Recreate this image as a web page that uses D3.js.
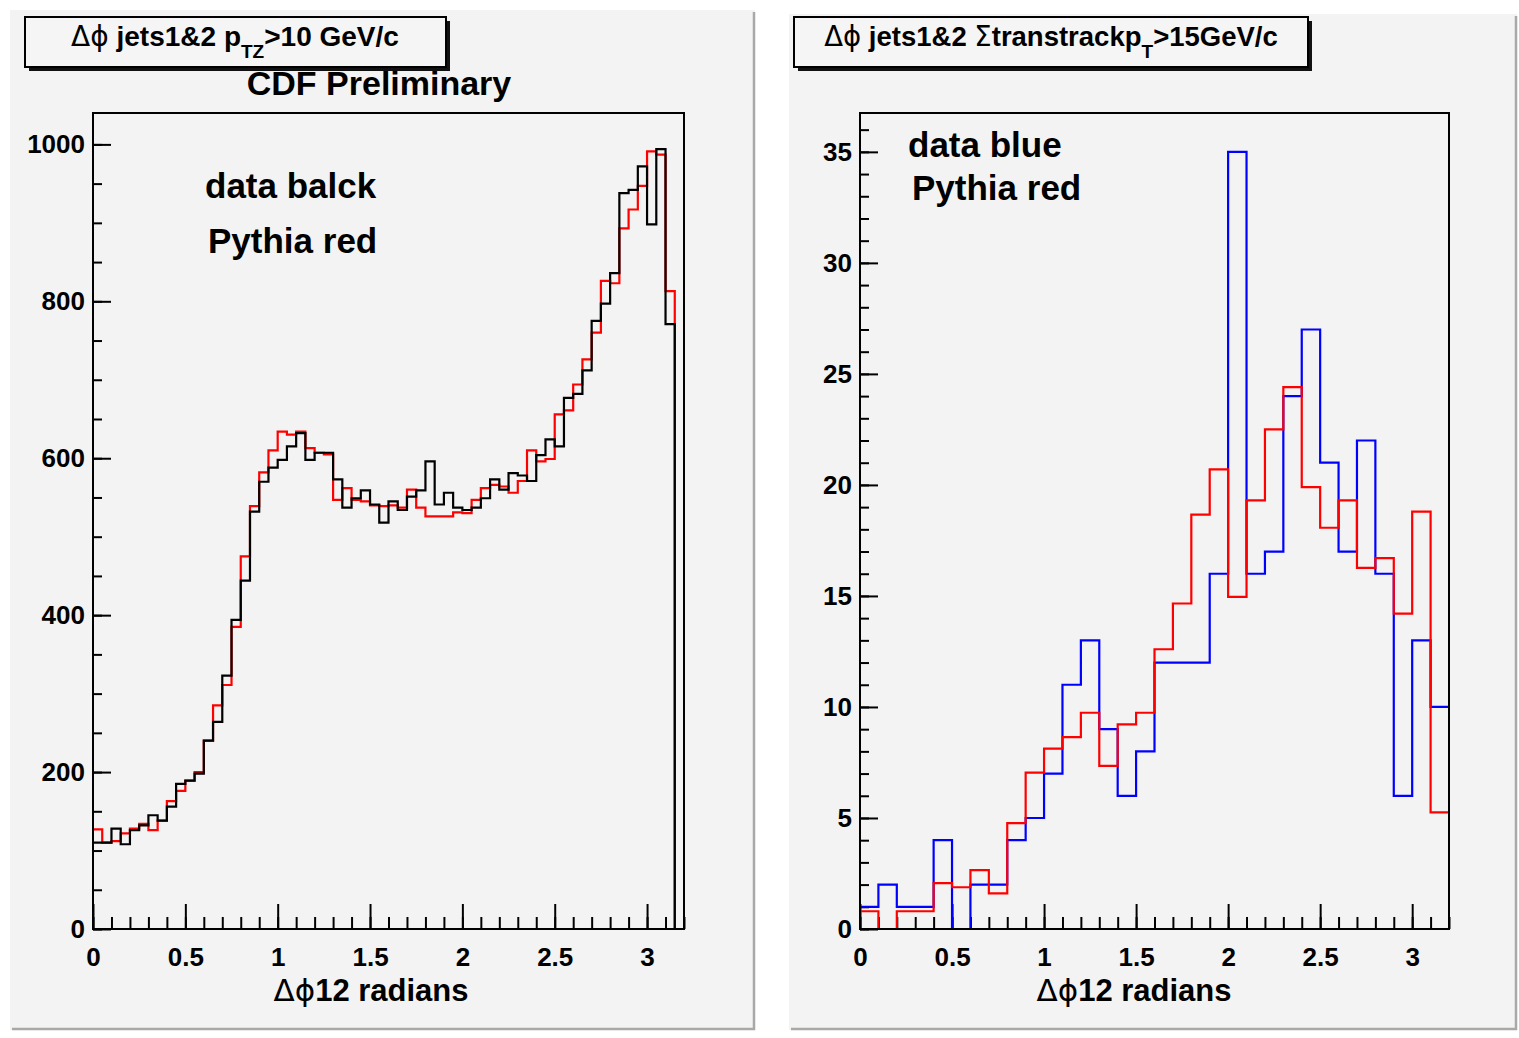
<!DOCTYPE html>
<html>
<head>
<meta charset="utf-8">
<script src="https://cdn.jsdelivr.net/npm/d3@7"></script>
<style>
  html, body { margin: 0; padding: 0; background: #ffffff; }
  svg { display: block; }
  text { font-family: "Liberation Sans", Arial, Helvetica, sans-serif; font-weight: bold; fill: #000; }
</style>
</head>
<body>
<svg id="chart" width="1519" height="1038"></svg>
<script>
// ---------------- DATA ----------------
// Left panel: 64 bins of width 0.05 from 0 to 3.2
const leftBinWidth = 0.05;
const leftData = [110,110,128,108,126,132,145,138,156,185,189,198,240,264,323,394,
  444,532,570,588,598,615,632,598,607,607,573,537,549,559,541,518,
  545,534,551,559,596,541,556,537,534,537,549,573,560,581,578,571,
  604,624,615,677,682,712,775,797,836,938,942,972,898,994,771,0];
const leftPythia = [127,110,112,122,128,134,126,138,163,176,189,200,240,285,311,385,
  475,539,582,610,634,630,634,613,607,605,547,562,547,545,540,539,
  540,537,560,537,526,526,526,531,530,547,562,566,564,556,571,610,
  596,599,656,661,694,726,760,826,823,893,917,947,991,987,813,0];
// Right panel: 32 bins of width 0.1 from 0 to 3.2
const rightBinWidth = 0.1;
const rightData = [1,2,1,1,4,0,2,2,4,5,7,11,13,9,6,8,
  12,12,12,16,35,16,17,24,27,21,17,22,16,6,13,10];
const rightPythia = [0.8,0,0.8,0.8,2.07,1.88,2.65,1.6,4.77,7.04,8.12,8.64,9.74,7.35,9.22,9.74,
  12.6,14.66,18.66,20.7,14.96,19.3,22.5,24.4,19.9,18.07,19.3,16.26,16.7,14.2,18.8,5.25];

const xTickValues = [0, 0.5, 1, 1.5, 2, 2.5, 3];
const xTickLabels = ["0", "0.5", "1", "1.5", "2", "2.5", "3"];
const leftYTicks = [0, 200, 400, 600, 800, 1000];
const rightYTicks = [0, 5, 10, 15, 20, 25, 30, 35];

// ---------------- DRAWING ----------------
const svg = d3.select("#chart");

function pad(x0, y0, x1, y1) {
  svg.append("rect").attr("x", x0).attr("y", y0).attr("width", x1 - x0).attr("height", y1 - y0)
    .attr("fill", "#f3f3f3");
  svg.append("path").attr("d", `M${x1 - 1},${y0 + 2}V${y1 - 1}H${x0 + 2}`)
    .attr("fill", "none").attr("stroke", "#a8a8a8").attr("stroke-width", 2.5);
}
pad(10, 10, 755, 1030);
pad(789, 14, 1517, 1030);

function titleBox(x0, y0, x1, y1) {
  svg.append("rect").attr("x", x0 + 4).attr("y", y0 + 4).attr("width", x1 - x0).attr("height", y1 - y0)
    .attr("fill", "#111");
  svg.append("rect").attr("x", x0).attr("y", y0).attr("width", x1 - x0).attr("height", y1 - y0)
    .attr("fill", "#f5f5f5").attr("stroke", "#000").attr("stroke-width", 2);
}

function stepPath(x, y, values, bw) {
  let d = `M${x(0)},${y(values[0])}`;
  values.forEach((v, i) => {
    d += `H${x((i + 1) * bw)}`;
    if (i + 1 < values.length) d += `V${y(values[i + 1])}`;
  });
  return d;
}

function panel(opt) {
  const x = d3.scaleLinear().domain([0, 3.2]).range([opt.x0, opt.x1]);
  const y = d3.scaleLinear().domain([0, opt.ymax]).range([929, 113]);
  const g = svg.append("g");

  g.append("rect").attr("x", opt.x0).attr("y", 113).attr("width", opt.x1 - opt.x0).attr("height", 816)
    .attr("fill", "#f3f3f3");

  const xMinor = d3.range(0, 33).map(i => i / 10).filter(v => v <= 3.2);
  g.append("g").attr("transform", `translate(0,929)`)
    .call(d3.axisBottom(x).tickValues(xMinor).tickSize(-12).tickFormat(""))
    .call(s => { s.select(".domain").remove(); s.selectAll("line").attr("stroke", "#000").attr("stroke-width", 2); });
  g.append("g").attr("transform", `translate(0,929)`)
    .call(d3.axisBottom(x).tickValues(xTickValues).tickSize(-25).tickPadding(19)
      .tickFormat((d, i) => xTickLabels[i]))
    .call(s => {
      s.select(".domain").remove();
      s.selectAll("line").attr("stroke", "#000").attr("stroke-width", 2);
      s.selectAll("text").attr("font-size", 26).attr("font-family", "Liberation Sans, Arial, sans-serif")
        .attr("font-weight", "bold").attr("fill", "#000");
    });

  g.append("g").attr("transform", `translate(${opt.x0},0)`)
    .call(d3.axisLeft(y).tickValues(opt.yMinor).tickSize(-9).tickFormat(""))
    .call(s => { s.select(".domain").remove(); s.selectAll("line").attr("stroke", "#000").attr("stroke-width", 2); });
  g.append("g").attr("transform", `translate(${opt.x0},0)`)
    .call(d3.axisLeft(y).tickValues(opt.yTicks).tickSize(-18).tickPadding(8).tickFormat(d3.format("d")))
    .call(s => {
      s.select(".domain").remove();
      s.selectAll("line").attr("stroke", "#000").attr("stroke-width", 2);
      s.selectAll("text").attr("font-size", 26).attr("font-family", "Liberation Sans, Arial, sans-serif")
        .attr("font-weight", "bold").attr("fill", "#000");
    });

  opt.series.forEach(s => {
    g.append("path").attr("d", stepPath(x, y, s.values, opt.bw))
      .attr("fill", "none").attr("stroke", s.color).attr("stroke-width", 2.2);
  });

  g.append("rect").attr("x", opt.x0).attr("y", 113).attr("width", opt.x1 - opt.x0).attr("height", 816)
    .attr("fill", "none").attr("stroke", "#000").attr("stroke-width", 2);

  const t = g.append("text").attr("x", opt.titleX).attr("y", 1001).attr("text-anchor", "middle")
    .attr("font-size", 31);
  t.append("tspan").attr("font-weight", "normal").attr("font-family", "DejaVu Sans, sans-serif").text("Δϕ");
  t.append("tspan").text("12 radians");
}

// Left panel
titleBox(25, 17, 446, 67);
{
  const t = svg.append("text").attr("x", 235).attr("y", 46).attr("text-anchor", "middle").attr("font-size", 28);
  t.append("tspan").attr("font-weight", "normal").attr("font-family", "DejaVu Sans, sans-serif").text("Δϕ");
  t.append("tspan").text(" jets1&2 p");
  t.append("tspan").attr("font-size", 19).attr("dy", 12).text("TZ");
  t.append("tspan").attr("dy", -12).text(">10 GeV/c");
}
svg.append("text").attr("x", 379).attr("y", 95).attr("text-anchor", "middle").attr("font-size", 34)
  .text("CDF Preliminary");

panel({
  x0: 93, x1: 684, ymax: 1040, bw: leftBinWidth,
  yTicks: leftYTicks, yMinor: d3.range(0, 21).map(i => i * 50),
  titleX: 371,
  series: [{ values: leftPythia, color: "#ff0000" }, { values: leftData, color: "#000000" }]
});
svg.append("text").attr("x", 205).attr("y", 198).attr("font-size", 35).text("data balck");
svg.append("text").attr("x", 208).attr("y", 253).attr("font-size", 35).text("Pythia red");

// Right panel
titleBox(794, 17, 1308, 67);
{
  const t = svg.append("text").attr("x", 1051).attr("y", 46).attr("text-anchor", "middle").attr("font-size", 27.5);
  t.append("tspan").attr("font-weight", "normal").attr("font-family", "DejaVu Sans, sans-serif").text("Δϕ");
  t.append("tspan").text(" jets1&2 ");
  t.append("tspan").attr("font-weight", "normal").attr("font-family", "DejaVu Sans, sans-serif").text("Σ");
  t.append("tspan").text("transtrackp");
  t.append("tspan").attr("font-size", 19).attr("dy", 12).text("T");
  t.append("tspan").attr("dy", -12).text(">15GeV/c");
}

panel({
  x0: 860, x1: 1449, ymax: 36.75, bw: rightBinWidth,
  yTicks: rightYTicks, yMinor: d3.range(0, 37),
  titleX: 1134,
  series: [{ values: rightData, color: "#0000ff" }, { values: rightPythia, color: "#ff0000" }]
});
svg.append("text").attr("x", 908).attr("y", 157).attr("font-size", 35).text("data blue");
svg.append("text").attr("x", 912).attr("y", 200).attr("font-size", 35).text("Pythia red");
</script>
</body>
</html>
